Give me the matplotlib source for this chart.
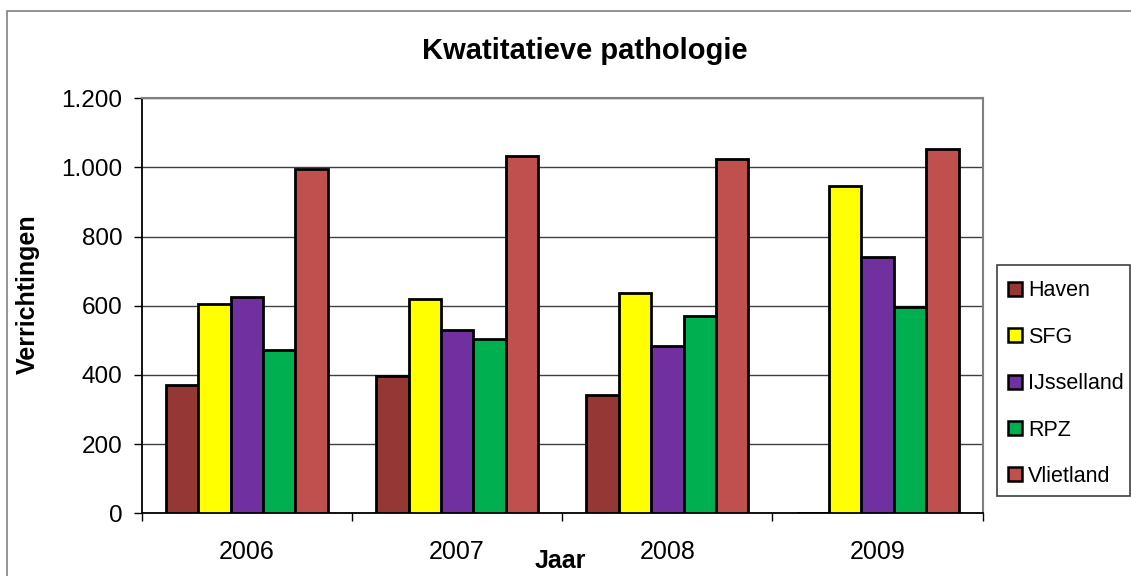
import matplotlib
matplotlib.use("Agg")
import matplotlib.pyplot as plt
from matplotlib.patches import Patch, Rectangle
from matplotlib.ticker import FuncFormatter, FixedLocator
import numpy as np

plt.rcParams['font.family'] = ['Liberation Sans', 'DejaVu Sans']

years = ['2006', '2007', '2008', '2009']
series = ['Haven', 'SFG', 'IJsselland', 'RPZ', 'Vlietland']
haven = [370, 396, 341, 0]
sfg = [605, 619, 638, 947]
ijsselland = [625, 531, 485, 742]
rpz = [471, 505, 571, 596]
vlietland = [995, 1034, 1024, 1053]
colors = ['#953735', '#FFFF00', '#7030A0', '#00B050', '#C0504D']
yticks = [0, 200, 400, 600, 800, 1000, 1200]

W, H = 1131, 576
fig = plt.figure(figsize=(W / 100, H / 100), dpi=100)

def fx(px):
    return px / W

def fy(py):
    return 1 - py / H

# outer chart border
fig.patches.append(Rectangle((fx(7), fy(600)), fx(1160) - fx(7), fy(11) - fy(600),
                             transform=fig.transFigure, fill=False,
                             edgecolor='#808080', linewidth=1.2))

ax = fig.add_axes([fx(141.7), fy(513.3), fx(982.7) - fx(141.7), fy(98.3) - fy(513.3)])

data = [haven, sfg, ijsselland, rpz, vlietland]
x = np.arange(len(years))
bw = 0.154
for i, (vals, c, name) in enumerate(zip(data, colors, series)):
    ax.bar(x + (i - 2) * bw, vals, width=bw, color=c, edgecolor='black',
           linewidth=2.0, label=name, zorder=3)

ax.set_xlim(-0.5, 3.5)
ax.set_ylim(0, 1200)
ax.set_yticks(yticks)
ax.yaxis.set_major_formatter(FuncFormatter(lambda v, p: f"{int(v):,}".replace(',', '.')))
ax.grid(axis='y', color='#404040', linewidth=1.0, zorder=0)
ax.set_axisbelow(True)

ax.set_xticks(x)
ax.set_xticklabels(years)
ax.xaxis.set_minor_locator(FixedLocator([-0.5, 0.5, 1.5, 2.5, 3.5]))
ax.tick_params(axis='x', which='major', length=0, pad=19, labelsize=18)
ax.tick_params(axis='x', which='minor', length=6, width=1.0, direction='out', color='black')
ax.tick_params(axis='y', length=6, width=1.0, direction='out', pad=8, labelsize=17.5, color='black')

for s in ['left', 'bottom']:
    ax.spines[s].set_color('black')
    ax.spines[s].set_linewidth(1.3)
for s in ['top', 'right']:
    ax.spines[s].set_color('#808080')
    ax.spines[s].set_linewidth(1.5)

fig.text(fx(585), fy(51), 'Kwatitatieve pathologie', ha='center', va='center',
         fontsize=21, fontweight='bold')
fig.text(fx(28), fy(294), 'Verrichtingen', ha='center', va='center', rotation=90,
         fontsize=18, fontweight='bold')
fig.text(fx(560), fy(561), 'Jaar', ha='center', va='center',
         fontsize=18, fontweight='bold')

# legend frame
fig.patches.append(Rectangle((fx(997), fy(496)), fx(1130) - fx(997), fy(265) - fy(496),
                             transform=fig.transFigure, fill=True, facecolor='white',
                             edgecolor='#404040', linewidth=1.2, zorder=1))
handles = [Patch(facecolor=c, edgecolor='black', linewidth=1.8) for c in colors]
leg = fig.legend(handles, series, loc='upper left',
                 bbox_to_anchor=(fx(1004), fy(276)), frameon=False,
                 fontsize=15.5, handlelength=0.62, handleheight=0.62,
                 handletextpad=0.3, labelspacing=1.18, borderpad=0.2,
                 borderaxespad=0)
leg.set_zorder(5)

fig.savefig('out.png', dpi=100)
